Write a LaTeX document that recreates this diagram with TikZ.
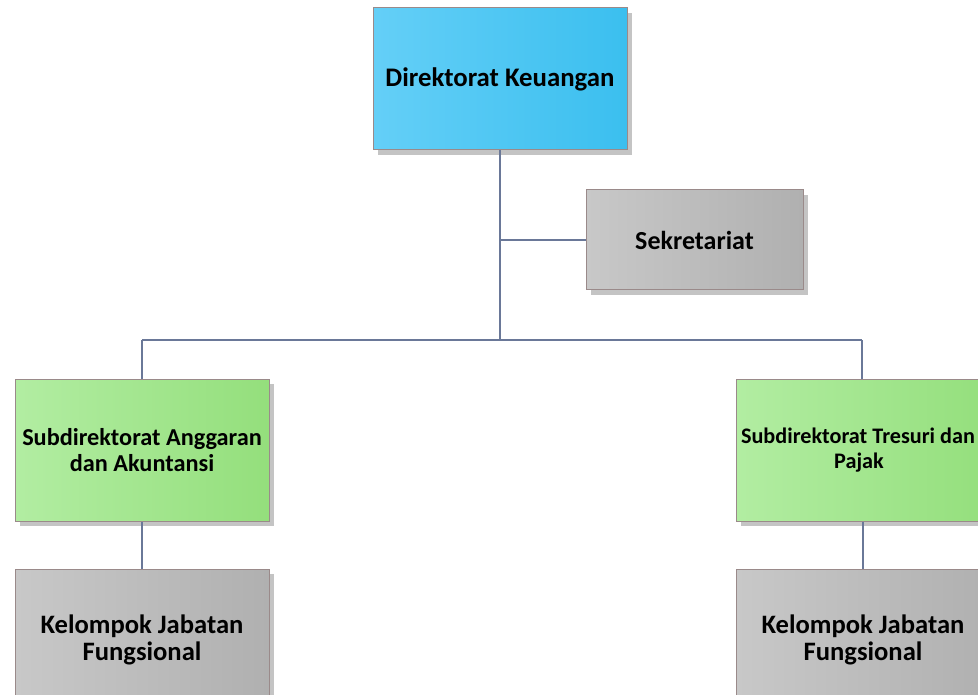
\documentclass[tikz,border=0pt]{standalone}
\usepackage{fontspec}
\setmainfont{Carlito}
\usetikzlibrary{shadows}
\definecolor{edgebox}{HTML}{9A8A8A}
\definecolor{linkline}{HTML}{6A7898}
\definecolor{blueL}{HTML}{64CFF7}
\definecolor{blueR}{HTML}{3BBFEF}
\definecolor{greenL}{HTML}{B2EDA2}
\definecolor{greenR}{HTML}{94DF7C}
\definecolor{grayL}{HTML}{C8C8C8}
\definecolor{grayR}{HTML}{B0B0B0}
\definecolor{shadowgray}{HTML}{C4C4C4}
% a line of text that may run past the box edge without widening the box
\newcommand{\freeline}[1]{\makebox[0pt][c]{#1}}
\tikzset{
  unit/.style={draw=edgebox, line width=1pt, rectangle, align=center,
    text=black, inner sep=2pt,
    drop shadow={shadow xshift=5pt, shadow yshift=-5pt, fill=shadowgray, opacity=1}},
  headbox/.style={unit, minimum width=254pt, minimum height=142pt,
    left color=blueL, right color=blueR, font=\bfseries\fontsize{26.8}{28}\selectfont},
  secbox/.style={unit, minimum width=217pt, minimum height=100pt,
    left color=grayL, right color=grayR, font=\bfseries\fontsize{26}{28}\selectfont},
  subbox/.style={unit, minimum width=254pt, minimum height=142pt,
    left color=greenL, right color=greenR, font=\bfseries\fontsize{24.3}{25.5}\selectfont},
  groupbox/.style={unit, minimum width=254pt, minimum height=142pt,
    left color=grayL, right color=grayR, font=\bfseries\fontsize{26.6}{27.5}\selectfont},
  link/.style={draw=linkline, line width=1.3pt}
}
\begin{document}
\begin{tikzpicture}[x=1pt, y=-1pt]
\useasboundingbox (0,0) rectangle (978,695);
\clip (0,0) rectangle (978,695);
\fill[white] (0,0) rectangle (978,695);

% junction points of the connector tree
\coordinate (hub) at (500,340);
\coordinate (secjoin) at (500,240);
\coordinate (leftjoin) at (142,340);
\coordinate (rightjoin) at (862,340);

\node[headbox] (dir) at (500,79) {Direktorat Keuangan};
\node[secbox] (sek) at (694.5,240) {Sekretariat};
\node[subbox] (ang) at (142,450) {Subdirektorat Anggaran\\dan Akuntansi};
\node[subbox, font=\bfseries\fontsize{22.2}{25.5}\selectfont] (tre) at (863,450)
  {\freeline{\hspace*{-10pt}Subdirektorat Tresuri dan}\\\freeline{\hspace*{-8pt}Pajak}};
\node[groupbox] (kjl) at (142,640) {\raisebox{4pt}{Kelompok Jabatan}\\\raisebox{4pt}{Fungsional}};
\node[groupbox] (kjr) at (863,640) {\raisebox{4pt}{Kelompok Jabatan}\\\raisebox{4pt}{Fungsional}};

\draw[link] (dir.south) -- (hub);
\draw[link] (secjoin) -- (sek.west);
\draw[link] (leftjoin) -- (rightjoin);
\draw[link] (leftjoin) -- (ang.north);
\draw[link] (rightjoin) -- (rightjoin |- tre.north);
\draw[link] (ang.south) -- (kjl.north);
\draw[link] (tre.south) -- (tre.south |- kjr.north);
\end{tikzpicture}
\end{document}
